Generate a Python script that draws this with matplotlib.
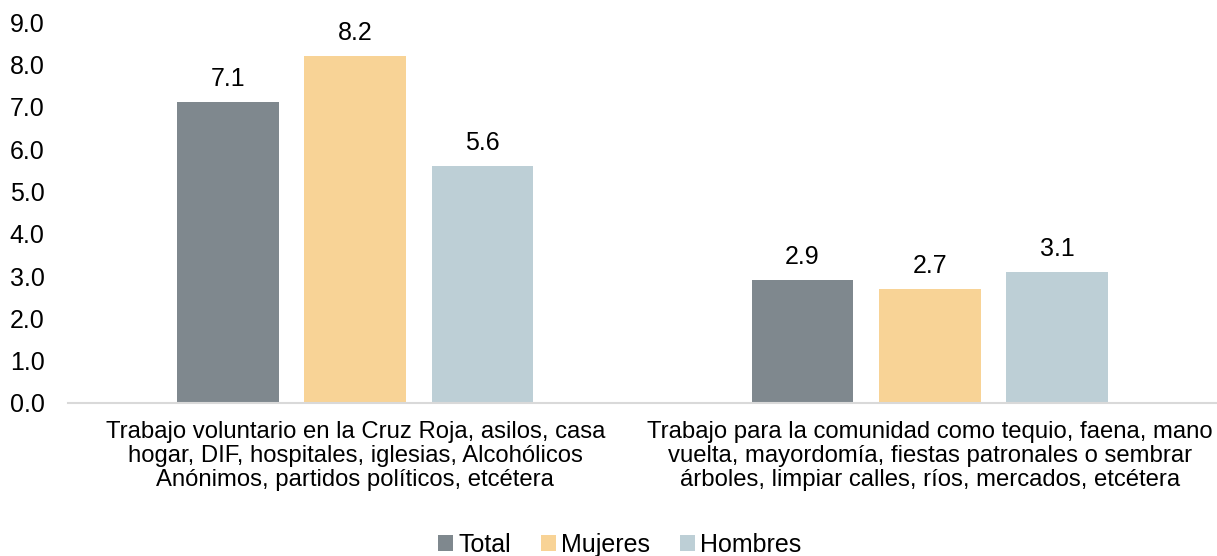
import numpy as np
import matplotlib
matplotlib.use('Agg')
import matplotlib.pyplot as plt

plt.rcParams['font.family'] = ['Liberation Sans', 'DejaVu Sans']

categorias = ['Trabajo voluntario en la Cruz Roja, asilos, casa\nhogar, DIF, hospitales, iglesias, Alcohólicos\nAnónimos, partidos políticos, etcétera',
              'Trabajo para la comunidad como tequio, faena, mano\nvuelta, mayordomía, fiestas patronales o sembrar\nárboles, limpiar calles, ríos, mercados, etcétera']
series = ['Total', 'Mujeres', 'Hombres']
total = [7.1, 2.9]
mujeres = [8.2, 2.7]
hombres = [5.6, 3.1]
colores = ['#7F888E', '#F8D396', '#BDCFD6']

fig = plt.figure(figsize=(12.17, 5.56), dpi=100)
ax = fig.add_axes([68/1217, 1-403/556, 1149/1217, 381/556])

x = np.arange(len(categorias))
w = 0.177
paso = 0.2215
for i, (vals, nom) in enumerate(zip([total, mujeres, hombres], series)):
    pos = x + (i-1)*paso
    ax.bar(pos, vals, w, color=colores[i], label=nom, zorder=2)
    for p, v in zip(pos, vals):
        ax.annotate('%.1f' % v, (p, v), xytext=(0, 8), textcoords='offset points',
                    ha='center', va='bottom', fontsize=18)

ax.set_xlim(-0.5, 1.5)
ax.set_ylim(0, 9)
ax.set_yticks(np.arange(0, 9.1, 1))
ax.set_yticklabels(['%.1f' % t for t in np.arange(0, 9.1, 1)], fontsize=18)
ax.set_xticks(x)
ax.set_xticklabels(categorias, fontsize=17.2, linespacing=1.12)
ax.tick_params(axis='both', length=0)
ax.tick_params(axis='y', pad=17)
ax.tick_params(axis='x', pad=13)
for s in ['top', 'right', 'left']:
    ax.spines[s].set_visible(False)
ax.spines['bottom'].set_color('#D9D9D9')
ax.spines['bottom'].set_linewidth(1.5)

fig.legend(loc='lower center', bbox_to_anchor=(0.509, -0.042), ncol=3, frameon=False,
           fontsize=18, handlelength=0.6, handleheight=0.6, handletextpad=0.2,
           columnspacing=1.2)

fig.savefig('out.png', dpi=100)
